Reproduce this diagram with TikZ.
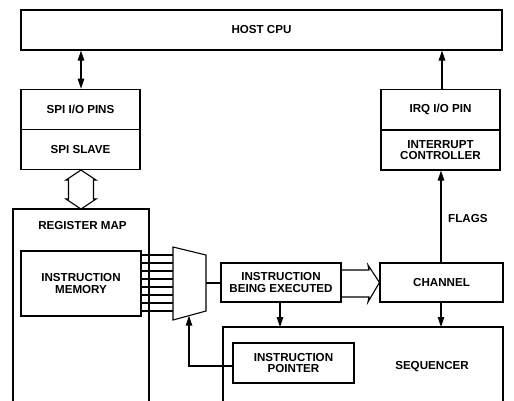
\documentclass[tikz,border=0pt]{standalone}
\usepackage{fontspec}
\setmainfont{Liberation Sans}
\usetikzlibrary{arrows.meta}
\begin{document}
\begin{tikzpicture}[x=1bp,y=-1bp,
  lw/.style={line width=1.1bp},
  blk/.style={draw,lw,rectangle,inner sep=0pt,align=center,
    font=\bfseries\fontsize{11.6bp}{11.7bp}\selectfont},
  lbl/.style={inner sep=0pt,align=center,font=\bfseries\fontsize{11.6bp}{11.7bp}\selectfont},
  arr/.style={lw,-{Triangle[length=10bp,width=6.5bp]}},
  darr/.style={lw,{Triangle[length=10bp,width=6.5bp]}-{Triangle[length=10bp,width=6.5bp]}},
]
\useasboundingbox (0,0) rectangle (514,400);
% top
\node[blk,minimum width=481bp,minimum height=40bp] (host) at (261.5,30) {HOST CPU};
\node[blk,minimum width=119bp,minimum height=40.5bp] (spipins) at (80.5,109.5) {SPI I/O PINS};
\node[blk,minimum width=119bp,minimum height=39.5bp] (spislave) at (80.5,149.5) {SPI SLAVE};
\node[blk,minimum width=119bp,minimum height=40.5bp] (irqpin) at (440.5,109.5) {IRQ I/O PIN};
\node[blk,minimum width=119bp,minimum height=40bp] (intc) at (440.5,150) {INTERRUPT\\CONTROLLER};
% register map (open at bottom)
\coordinate (rmtl) at (13,209);
\coordinate (rmtr) at (149,209);
\draw[lw] (13,401) -- (rmtl) -- (rmtr) -- (149,401);
\node[lbl] (regmap) at (82.5,225) {REGISTER MAP};
\node[blk,minimum width=120bp,minimum height=65bp] (imem) at (81,283.5) {INSTRUCTION\\MEMORY};
% mux
\coordinate (m1) at (173,247);
\coordinate (m2) at (206,255);
\coordinate (m3) at (206,311);
\coordinate (m4) at (173,320);
\draw[lw] (m1) -- (m2) -- (m3) -- (m4) -- cycle;
\coordinate (mout) at (206,283);
\coordinate (min) at (189,315.7);
\foreach \y in {255,263,271,279,287,295,303,311}{
  \draw[lw] (imem.east |- 0,\y) -- (173,\y);
}
% middle row
\node[blk,minimum width=120bp,minimum height=39bp] (ibe) at (281,282.5) {INSTRUCTION\\BEING EXECUTED};
\node[blk,minimum width=123bp,minimum height=39bp] (chan) at (441.5,282.5) {CHANNEL};
\draw[lw] (mout) -- (ibe.west |- mout);
% sequencer (open at bottom)
\coordinate (sqtl) at (223,327);
\coordinate (sqtr) at (503,327);
\draw[lw] (223,401) -- (sqtl) -- (sqtr) -- (503,401);
\node[lbl] (seq) at (432,367) {SEQUENCER};
\node[blk,minimum width=121bp,minimum height=40bp] (ip) at (293.5,363) {INSTRUCTION\\POINTER};
% connectors
\draw[darr] (host.south -| 81,0) -- (spipins.north -| 81,0);
\draw[arr] (irqpin.north -| 442,0) -- (host.south -| 442,0);
\draw[arr] (chan.north -| 441,0) -- (intc.south -| 441,0);
\node[lbl,anchor=west] (flags) at (448,218) {FLAGS};
\draw[arr] (ibe.south -| 280,0) -- (sqtl -| 280,0);
\draw[arr] (chan.south -| 441,0) -- (sqtl -| 441,0);
\draw[arr] (ip.west |- 0,366) -- (189,366) -- (min);
% hollow arrows
\draw[lw,line join=miter] (81,170) -- (96,180) -- (93.5,180) -- (93.5,199) -- (96,199) -- (81,209)
  -- (66,199) -- (68.5,199) -- (68.5,180) -- (66,180) -- cycle;
\draw[lw,line join=miter] (ibe.east |- 0,270) -- (369,270) -- (368,265) -- (chan.west) -- (368,302) -- (369,297) -- (ibe.east |- 0,297);
\end{tikzpicture}
\end{document}
